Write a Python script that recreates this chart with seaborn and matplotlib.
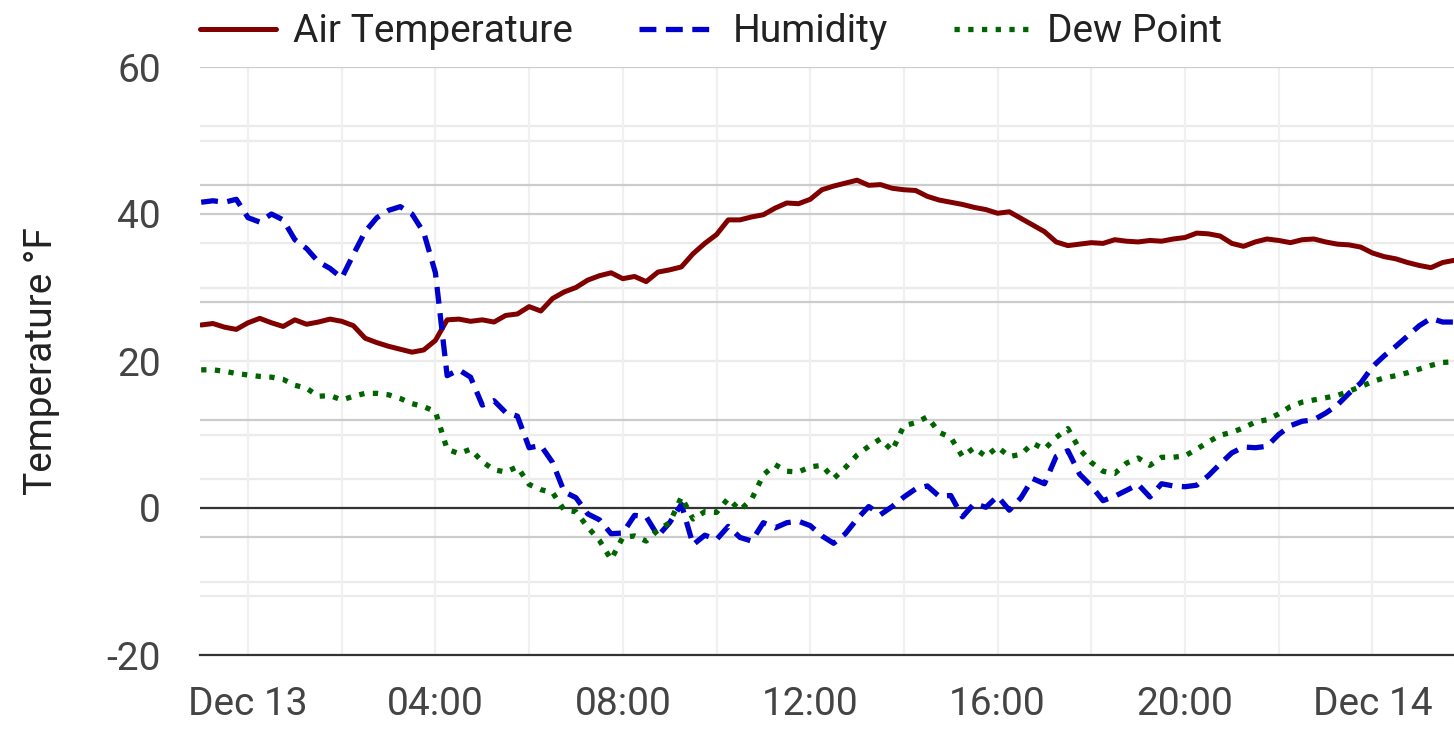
import matplotlib
matplotlib.use('Agg')
import matplotlib.pyplot as plt
import matplotlib.dates as mdates
import pandas as pd
import seaborn as sns

# Readings every 15 minutes, Dec 12 23:00 -> Dec 14 01:45
start_time = '2023-12-12 23:00'
air_temp = [
  24.9, 25.1, 24.6, 24.3, 25.2, 25.8, 25.2, 24.7, 25.6, 25.0,
  25.3, 25.7, 25.4, 24.8, 23.1, 22.5, 22.0, 21.6, 21.2, 21.5,
  22.8, 25.6, 25.7, 25.4, 25.6, 25.3, 26.2, 26.4, 27.4, 26.8,
  28.5, 29.4, 30.0, 31.0, 31.6, 32.0, 31.2, 31.5, 30.8, 32.1,
  32.4, 32.8, 34.6, 36.0, 37.2, 39.2, 39.2, 39.6, 39.9, 40.8,
  41.5, 41.4, 42.0, 43.3, 43.8, 44.2, 44.6, 43.9, 44.0, 43.5,
  43.3, 43.2, 42.4, 41.9, 41.6, 41.3, 40.9, 40.6, 40.1, 40.3,
  39.4, 38.5, 37.6, 36.2, 35.7, 35.9, 36.1, 36.0, 36.5, 36.3,
  36.2, 36.4, 36.3, 36.6, 36.8, 37.4, 37.3, 37.0, 36.0, 35.6,
  36.2, 36.6, 36.4, 36.1, 36.5, 36.6, 36.2, 35.9, 35.8, 35.5,
  34.7, 34.2, 33.9, 33.4, 33.0, 32.7, 33.4, 33.7,
]
humidity = [
  41.6, 41.8, 41.6, 42.0, 39.5, 38.9, 40.0, 39.2, 36.5, 35.3,
  33.5, 32.6, 31.3, 34.5, 37.6, 39.5, 40.5, 41.0, 40.0, 37.5,
  32.0, 18.0, 18.8, 17.8, 14.0, 14.6, 13.0, 12.5, 8.2, 8.5,
  6.2, 2.2, 1.4, -0.8, -1.6, -3.5, -3.4, -1.0, -1.2, -3.8,
  -2.0, 0.5, -5.0, -3.7, -4.3, -2.5, -4.0, -4.5, -2.0, -2.7,
  -2.0, -1.8, -2.4, -3.8, -4.8, -3.5, -1.5, 0.2, -0.9, 0.2,
  1.5, 2.6, 3.0, 1.6, 1.7, -1.2, 0.6, 0.1, 1.6, -0.3,
  1.4, 4.0, 3.3, 7.0, 7.8, 4.6, 3.0, 1.0, 1.6, 2.4,
  3.2, 1.5, 3.3, 3.0, 2.9, 3.1, 4.4, 6.0, 7.5, 8.3,
  8.2, 8.4, 10.0, 11.2, 11.8, 12.0, 12.9, 14.0, 15.6, 17.0,
  19.2, 20.7, 22.0, 23.4, 24.8, 25.8, 25.3, 25.3,
]
dew_point = [
  18.8, 18.8, 18.6, 18.3, 18.1, 17.9, 17.8, 17.5, 16.7, 16.3,
  15.2, 15.3, 14.7, 15.2, 15.6, 15.6, 15.4, 14.9, 14.2, 13.8,
  13.1, 8.0, 7.4, 8.0, 6.3, 5.2, 4.9, 5.6, 3.2, 2.5,
  2.1, -0.3, -0.5, -2.6, -4.4, -7.0, -4.0, -3.8, -4.5, -3.0,
  -2.0, 1.5, -1.5, -0.5, -0.6, 1.3, -0.3, 1.2, 4.5, 5.9,
  5.0, 4.9, 5.6, 5.8, 4.0, 5.5, 7.2, 8.4, 9.4, 7.8,
  11.2, 11.6, 12.4, 10.3, 9.6, 7.0, 8.2, 7.0, 8.3, 7.0,
  7.3, 8.8, 8.0, 9.6, 10.8, 8.0, 6.2, 5.0, 4.7, 6.1,
  6.8, 5.8, 6.9, 6.9, 7.1, 8.0, 9.0, 9.9, 10.3, 10.9,
  11.7, 12.0, 12.8, 13.8, 14.4, 14.7, 15.0, 15.3, 15.9, 16.5,
  17.2, 17.7, 18.0, 18.4, 18.9, 19.4, 19.8, 19.9,
]
y_ticks = [-20, 0, 20, 40, 60]

df = pd.DataFrame({
  'time': pd.date_range(start_time, periods=len(air_temp), freq='15min'),
  'Air Temperature': air_temp,
  'Humidity': humidity,
  'Dew Point': dew_point,
})

sns.set_theme(style='white')
plt.rcParams['font.family'] = ['Roboto', 'DejaVu Sans']
FS = 28

fig = plt.figure(figsize=(14.54, 7.53), dpi=100)
ax = fig.add_axes([200 / 1454, 1 - 655 / 753, 1 - 200 / 1454, 588 / 753])

# Background grid lines
for v in [52, 50, 36, 30, 20, 10, 4, -10, -12]:
  ax.axhline(v, color='#ebebeb', lw=1.6, zorder=0.5)
for v in [60, 44, 40, 28, 12, -4]:
  ax.axhline(v, color='#cccccc', lw=1.6, zorder=0.6)
ax.axhline(0, color='#333333', lw=1.6, zorder=1)

sns.lineplot(data=df, x='time', y='Air Temperature', ax=ax, color='#800000',
             lw=3.6, label='Air Temperature')
sns.lineplot(data=df, x='time', y='Humidity', ax=ax, color='#0000cd',
             lw=3.8, linestyle=(0, (3.2, 1.8)), label='Humidity')
sns.lineplot(data=df, x='time', y='Dew Point', ax=ax, color='#006400',
             lw=3.8, linestyle=(0, (1.0, 1.6)), label='Dew Point')

ax.set_xlim(pd.Timestamp('2023-12-12 22:58:30'), pd.Timestamp('2023-12-14 01:44:30'))
ax.set_ylim(-20, 60)
ax.set_yticks(y_ticks)
ax.set_yticklabels([str(t) for t in y_ticks])

ax.xaxis.set_major_locator(mdates.HourLocator(byhour=range(0, 24, 4)))
ax.xaxis.set_minor_locator(mdates.HourLocator(byhour=range(0, 24, 2)))


def fmt_time(x, pos=None):
  d = mdates.num2date(x)
  if d.hour == 0 and d.minute == 0:
    return d.strftime('%b %d').replace(' 0', ' ')
  return d.strftime('%H:%M')


ax.xaxis.set_major_formatter(plt.FuncFormatter(fmt_time))
ax.grid(axis='x', which='both', color='#f0f0f0', lw=1.6, zorder=0)
ax.set_axisbelow(True)

ax.tick_params(axis='both', which='both', length=0, labelsize=FS,
               labelcolor='#444444')
ax.tick_params(axis='x', pad=22)
ax.tick_params(axis='y', pad=28)

for s in ['top', 'right', 'left']:
  ax.spines[s].set_visible(False)
ax.spines['bottom'].set_color('#333333')
ax.spines['bottom'].set_linewidth(1.6)

ax.set_xlabel('')
ax.set_ylabel('Temperature °F', fontsize=FS, color='#222222')
ax.yaxis.set_label_coords(-0.112, 0.5)

leg = ax.legend(loc='center left', bbox_to_anchor=(0, 1.06), ncol=3,
                frameon=False, fontsize=FS, handlelength=1.95,
                handletextpad=0.45, columnspacing=1.7, borderpad=0,
                borderaxespad=0)
for t in leg.get_texts():
  t.set_color('#222222')

fig.savefig('out.png', dpi=100)
